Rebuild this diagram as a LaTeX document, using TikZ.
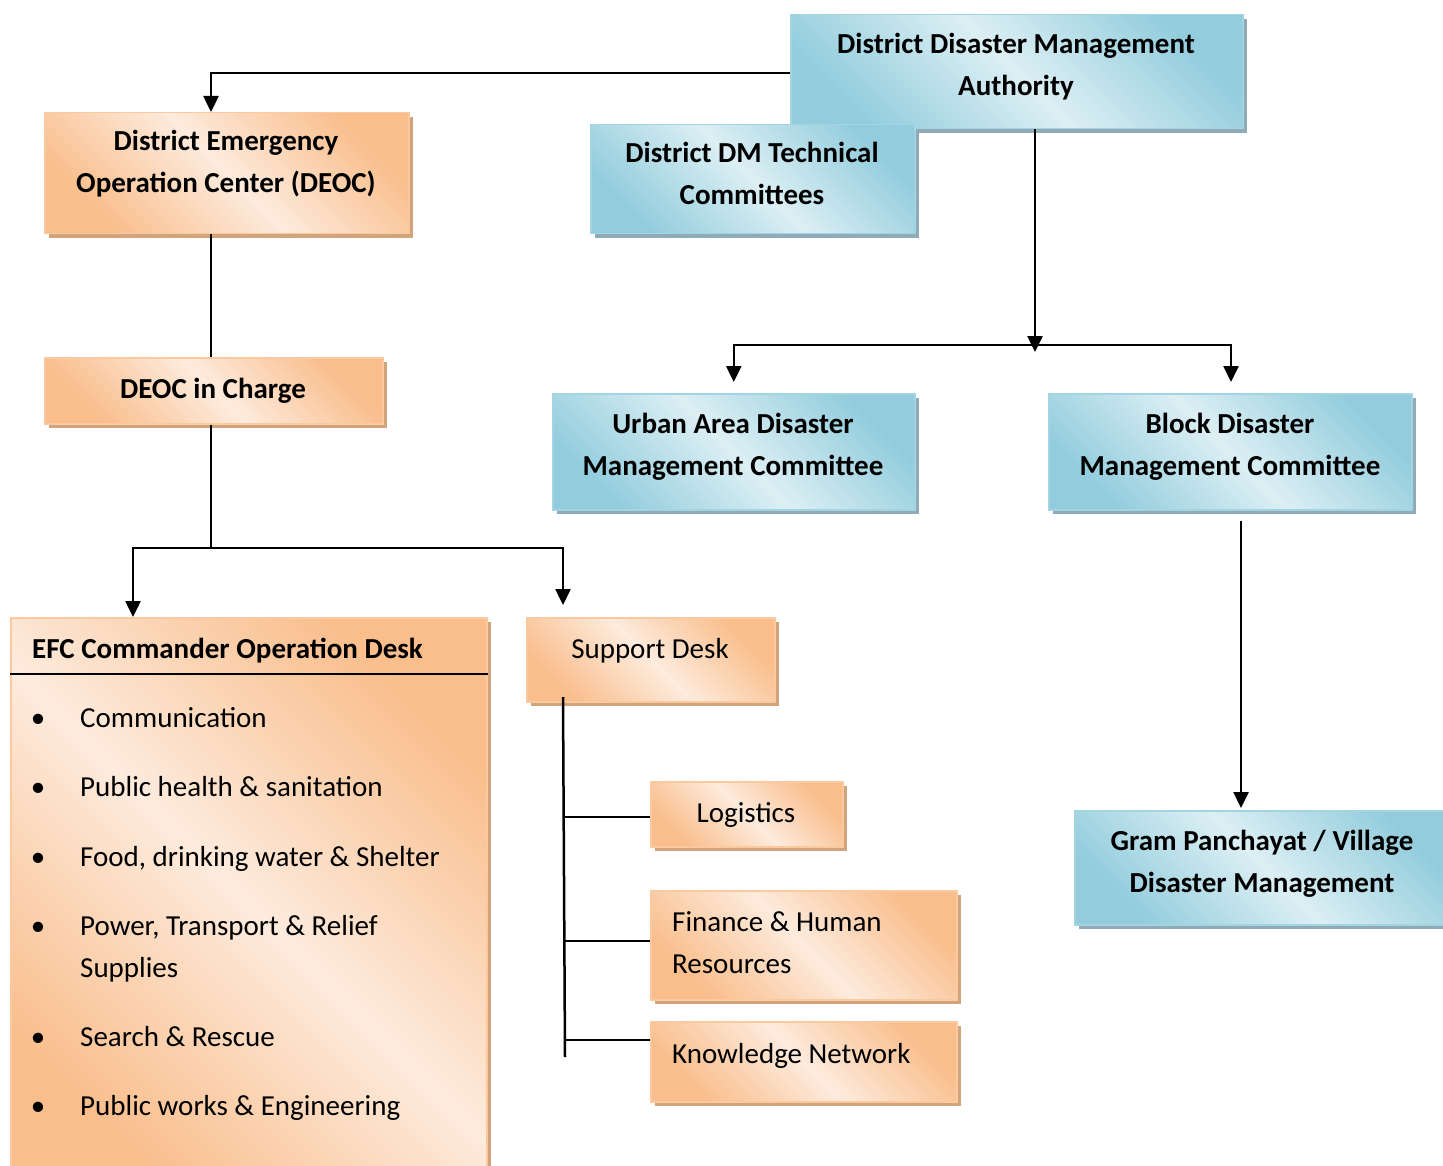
\documentclass[tikz,border=0pt]{standalone}
\usepackage{fontspec}
\setmainfont{Carlito}
\usetikzlibrary{arrows.meta,shadows}

\definecolor{orDark}{HTML}{F9BE8C}
\definecolor{orLight}{HTML}{FDEBDD}
\definecolor{orEdge}{HTML}{FAC9A0}
\definecolor{orShadow}{HTML}{D2A47C}
\definecolor{blDark}{HTML}{93CDDD}
\definecolor{blLight}{HTML}{DCEFF4}
\definecolor{blEdge}{HTML}{A2D4E1}
\definecolor{blShadow}{HTML}{8FABB8}

\tikzset{
  boxbase/.style={anchor=north west, inner sep=0pt, line width=1.5pt},
  obox/.style={boxbase, draw=orEdge, top color=orDark, bottom color=orDark,
    middle color=orLight, shading angle=-45,
    drop shadow={shadow xshift=4pt, shadow yshift=-4pt, fill=orShadow, opacity=1}},
  bbox/.style={boxbase, draw=blEdge, top color=blDark, bottom color=blDark,
    middle color=blLight, shading angle=-45,
    drop shadow={shadow xshift=4pt, shadow yshift=-4pt, fill=blShadow, opacity=1}},
  % text boxes are centred on the x-height of their last line
  txt/.style={inner sep=0pt, text height=24pt, text depth=4pt,
    font=\fontsize{29}{42}\selectfont},
  btxt/.style={txt, font=\fontsize{29}{42}\selectfont\bfseries},
  link/.style={line width=2.5pt, black},
  arr/.style={link, -{Triangle[width=15pt,length=16pt]}},
}

\begin{document}
\begin{tikzpicture}[x=1pt,y=-1pt]
\useasboundingbox (0,0) rectangle (1443,1166);

% ---- boxes ----
\node[bbox, minimum width=452pt, minimum height=114pt] (ddma)   at (790,14)  {};
\node[bbox, minimum width=324pt, minimum height=109pt] (tech)   at (590,124) {};
\node[obox, minimum width=364pt, minimum height=121pt] (deoc)   at (44,112)  {};
\node[obox, minimum width=338pt, minimum height=66pt]  (charge) at (44,357)  {};
\node[bbox, minimum width=362pt, minimum height=116pt] (urban)  at (552,393) {};
\node[bbox, minimum width=363pt, minimum height=116pt] (block)  at (1048,393) {};
\node[bbox, minimum width=380pt, minimum height=114pt] (gram)   at (1074,810) {};
\node[obox, minimum width=476pt, minimum height=570pt] (efc)    at (10,617)  {};
\node[obox, minimum width=248pt, minimum height=84pt]  (sup)    at (526,617) {};
\node[obox, minimum width=192pt, minimum height=65pt]  (log)    at (650,781) {};
\node[obox, minimum width=306pt, minimum height=109pt] (fin)    at (650,890) {};
\node[obox, minimum width=306pt, minimum height=80pt]  (know)   at (650,1021) {};

% ---- box texts ----
\node[btxt, align=center] (ddmaT)   at (1016,86)  {District Disaster Management\\Authority};
\node[btxt, align=center] (techT)   at (752,195)  {District DM Technical\\Committees};
\node[btxt, align=center] (deocT)   at (226,183)  {District Emergency\\Operation Center (DEOC)};
\node[btxt]               (chargeT) at (213,388)  {DEOC in Charge};
\node[btxt, align=center] (urbanT)  at (733,465)  {Urban Area Disaster\\Management Committee};
\node[btxt, align=center] (blockT)  at (1230,465) {Block Disaster\\Management Committee};
\node[btxt, align=center] (gramT)   at (1262,882) {Gram Panchayat / Village\\Disaster Management};
\node[txt]                (supT)    at (650,648)  {Support Desk};
\node[txt]                (logT)    at (746,812)  {Logistics};
\node[txt, align=left, anchor=west] (finT)  at (672,963)  {Finance \& Human\\Resources};
\node[txt, anchor=west]             (knowT) at (672,1053) {Knowledge Network};

% ---- operation desk list ----
\node[btxt, anchor=west] (efcT) at (32,648) {EFC Commander Operation Desk};
\draw[line width=1.5pt] (efc.west |- 0,674) -- (efc.east |- 0,674);
\foreach \n/\y in {b1/717, b2/786, b3/856, b4/925, b5/1036, b6/1105}
  \node[txt] (\n) at (38,\y) {\textbullet};
\node[txt, anchor=west] (i1) at (80,717)  {Communication};
\node[txt, anchor=west] (i2) at (80,786)  {Public health \& sanitation};
\node[txt, anchor=west] (i3) at (80,856)  {Food, drinking water \& Shelter};
\node[txt, anchor=west, align=left] (i4) at (80,967) {Power, Transport \& Relief\\Supplies};
\node[txt, anchor=west] (i5) at (80,1036) {Search \& Rescue};
\node[txt, anchor=west] (i6) at (80,1105) {Public works \& Engineering};

% ---- connector junctions ----
\coordinate (spine) at (211,0);
\coordinate (split) at (211,548);
\coordinate (efcX)  at (133,0);
\coordinate (supX)  at (563,0);
\coordinate (hub)   at (1035,345);
\coordinate (blkX)  at (1241,0);
\coordinate (trunkTop) at (563,697);
\coordinate (trunkBot) at (565,1057);

% ---- left branch ----
\draw[arr] (ddma.west |- 0,73) -| (deoc.north -| spine);
\draw[link] (deoc.south -| spine) -- (charge.north -| spine);
\draw[link] (charge.south -| spine) -- (split);
\draw[arr] (split) -| (efc.north -| efcX);
\draw[arr] (split) -| ([yshift=12pt]sup.north -| supX);

% ---- right branch ----
\draw[arr] (ddma.south -| hub) -- ([yshift=-7pt]hub);
\draw[arr] (hub) -| ([yshift=11pt]urban.north);
\draw[arr] (hub) -| ([yshift=11pt]block.north -| 1231,0);
\draw[arr] ([yshift=-10pt]block.south -| blkX) -- ([yshift=2pt]gram.north -| blkX);

% ---- support desk tree ----
\draw[link] (trunkTop) -- (trunkBot);
\draw[link] (log.west |- 0,817) -- (564,817);
\draw[link] (fin.west |- 0,941) -- (564,941);
\draw[link] (know.west |- 0,1040) -- (565,1040);
\end{tikzpicture}
\end{document}
